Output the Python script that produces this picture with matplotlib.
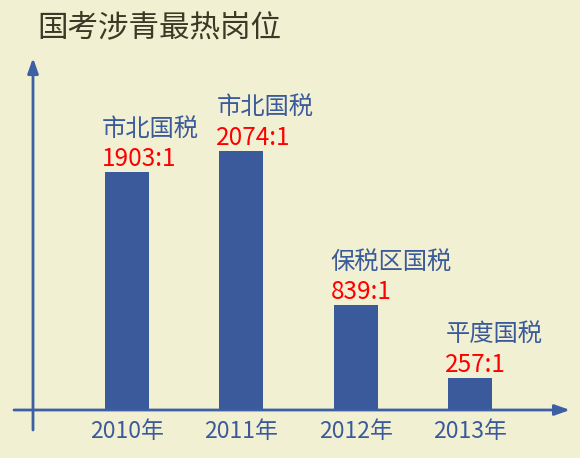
#!/usr/bin/env python3

import matplotlib
matplotlib.use("Agg")
from matplotlib import pyplot as plt

plt.rcParams['font.family'] = ['Noto Sans CJK SC', 'DejaVu Sans']

# data
years = ['2010年', '2011年', '2012年', '2013年']
posts = ['市北国税', '市北国税', '保税区国税', '平度国税']
ratios = [1903, 2074, 839, 257]
ratio_labels = ['1903:1', '2074:1', '839:1', '257:1']

title = '国考涉青最热岗位'

bg = '#f2f0d2'
blue = '#3b5a9b'
axcol = '#3d5fa3'

fig = plt.figure(figsize=(5.8, 4.58), dpi=100)
fig.patch.set_facecolor(bg)

W, H = 580, 458
x0, x1 = 33, 570
y0, y1 = 410, 60
ax = fig.add_axes([x0 / W, (H - y0) / H, (x1 - x0) / W, (y0 - y1) / H])
ax.set_facecolor('none')

xs = list(range(len(years)))
w = 0.384
bars = ax.bar(xs, ratios, width=w, color=blue, zorder=3)

ax.set_xlim(-0.817, 3.873)
ax.set_ylim(0, 2800)

for s in ax.spines.values():
  s.set_visible(False)
ax.set_yticks([])
ax.set_xticks(xs)
ax.set_xticklabels(years, fontsize=16.5, color=blue)
ax.tick_params(axis='x', length=0, pad=7)

for x, h, name, lab in zip(xs, ratios, posts, ratio_labels):
  ax.annotate(lab, (x - w / 2, h), xytext=(-2, 0), textcoords='offset points',
              ha='left', va='bottom', fontsize=17.5, color='#ff0000')
  ax.annotate(name, (x - w / 2, h), xytext=(-2, 22), textcoords='offset points',
              ha='left', va='bottom', fontsize=17.5, color=blue)

# axes with arrows, in figure pixels
def fp(px, py):
  return (px / W, (H - py) / H)

arrow = dict(arrowstyle='-|>,head_length=0.9,head_width=0.32', color=axcol, lw=2,
             shrinkA=0, shrinkB=0)
fig.add_artist(matplotlib.patches.FancyArrowPatch(fp(14, 410), fp(570, 410),
               transform=fig.transFigure, mutation_scale=10, **arrow))
fig.add_artist(matplotlib.patches.FancyArrowPatch(fp(33, 430), fp(33, 58),
               transform=fig.transFigure, mutation_scale=10, **arrow))

fig.text(37 / W, 1 - 28 / H, title, fontsize=22, color='#3a3a26', ha='left', va='center')

plt.savefig('out.png', dpi=100, facecolor=bg)
